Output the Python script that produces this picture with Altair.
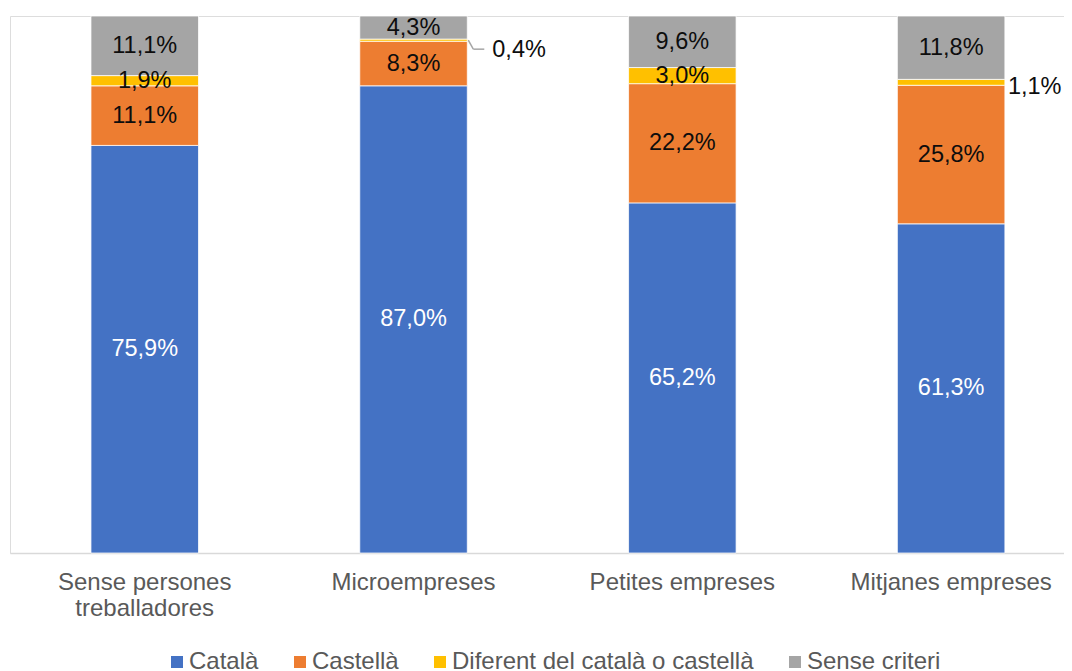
import altair as alt
import pandas as pd

categories = ["Sense persones treballadores", "Microempreses", "Petites empreses", "Mitjanes empreses"]
series = ["Català", "Castellà", "Diferent del català o castellà", "Sense criteri"]
colors = ["#4472C4", "#ED7D31", "#FFC000", "#A5A5A5"]

catala = [75.9, 87.0, 65.2, 61.3]
castella = [11.1, 8.3, 22.2, 25.8]
diferent = [1.9, 0.4, 3.0, 1.1]
sense_criteri = [11.1, 4.3, 9.6, 11.8]

values_by_series = [catala, castella, diferent, sense_criteri]
rows = []
for si, (s, vals) in enumerate(zip(series, values_by_series)):
    for ci, (c, v) in enumerate(zip(categories, vals)):
        rows.append({"cat": c, "series": s, "order": si, "value": v})
df = pd.DataFrame(rows)

FONT = "Liberation Sans"

x_scale = alt.Scale(domain=categories, paddingInner=0.6, paddingOuter=0.2606, align=0.578)
y_scale = alt.Scale(domain=[0, 100], nice=False, zero=True)

label_expr = ("datum.label == 'Sense persones treballadores' ? "
              "['Sense persones', 'treballadores'] : datum.label")

x_axis = alt.Axis(title=None, labelAngle=0, ticks=False, domainColor="#D9D9D9",
                  domainWidth=1.5, labelFontSize=24, labelColor="#595959",
                  labelFont=FONT, labelPadding=17, labelLineHeight=26,
                  labelExpr=label_expr, labelBaseline="top", labelLimit=500)

base = alt.Chart(df).transform_stack(
    stack="value", groupby=["cat"], as_=["v0", "v1"],
    sort=[alt.SortField("order", order="ascending")]
).transform_calculate(
    mid="(datum.v0 + datum.v1) / 2",
    label="replace(format(datum.value, '.1f'), '.', ',') + '%'"
)

bars = base.mark_bar(stroke="white", strokeWidth=0.75).encode(
    x=alt.X("cat:N", sort=categories, scale=x_scale, axis=x_axis),
    y=alt.Y("v0:Q", scale=y_scale, axis=None),
    y2="v1:Q",
    color=alt.Color("series:N", scale=alt.Scale(domain=series, range=colors),
                    sort=series,
                    legend=alt.Legend(title=None, orient="none", direction="horizontal",
                                      columns=4, legendX=153, legendY=634,
                                      symbolType="square", symbolSize=144,
                                      symbolStrokeWidth=0, symbolOffset=2,
                                      labelFontSize=24,
                                      labelColor="#595959", labelFont=FONT,
                                      labelOffset=0, columnPadding=27, labelLimit=500)),
    order=alt.Order("order:Q")
)

inside = base.transform_filter("datum.value >= 1.5").mark_text(
    font=FONT, fontSize=23.5, baseline="middle", align="center"
).encode(
    x=alt.X("cat:N", sort=categories, scale=x_scale),
    y=alt.Y("mid:Q", scale=y_scale),
    text="label:N",
    color=alt.condition("datum.series == 'Català'", alt.value("white"), alt.value("#0D0D0D"))
)

out_leader = base.transform_filter("datum.value < 1").mark_text(
    font=FONT, fontSize=23.5, baseline="middle", align="left", dx=25, dy=10, color="#0D0D0D"
).encode(
    x=alt.X("cat:N", sort=categories, scale=x_scale, bandPosition=1),
    y=alt.Y("mid:Q", scale=y_scale),
    text="label:N"
)

out_plain = base.transform_filter("datum.value >= 1 && datum.value < 1.5").mark_text(
    font=FONT, fontSize=23.5, baseline="middle", align="left", dx=3, dy=5, color="#0D0D0D"
).encode(
    x=alt.X("cat:N", sort=categories, scale=x_scale, bandPosition=1),
    y=alt.Y("mid:Q", scale=y_scale),
    text="label:N"
)

leader1 = base.transform_filter("datum.value < 1").mark_rule(
    color="#A6A6A6", strokeWidth=1.5, xOffset=1, x2Offset=6, yOffset=0, y2Offset=9
).encode(
    x=alt.X("cat:N", sort=categories, scale=x_scale, bandPosition=1),
    x2=alt.X2("cat:N", bandPosition=1),
    y=alt.Y("mid:Q", scale=y_scale),
    y2="mid:Q"
)

leader2 = base.transform_filter("datum.value < 1").mark_rule(
    color="#A6A6A6", strokeWidth=1.5, xOffset=6, x2Offset=17, yOffset=9, y2Offset=9
).encode(
    x=alt.X("cat:N", sort=categories, scale=x_scale, bandPosition=1),
    x2=alt.X2("cat:N", bandPosition=1),
    y=alt.Y("mid:Q", scale=y_scale),
    y2="mid:Q"
)

chart = alt.layer(bars, inside, out_leader, out_plain, leader1, leader2).properties(
    width=1054, height=537,
    padding={"left": 2, "top": 8, "right": 0, "bottom": 120},
    autosize=alt.AutoSizeParams(type="none")
).configure_view(strokeWidth=0, stroke="transparent").configure(font=FONT)

chart.save("out.html", embed_options={"renderer": "svg", "actions": False})
